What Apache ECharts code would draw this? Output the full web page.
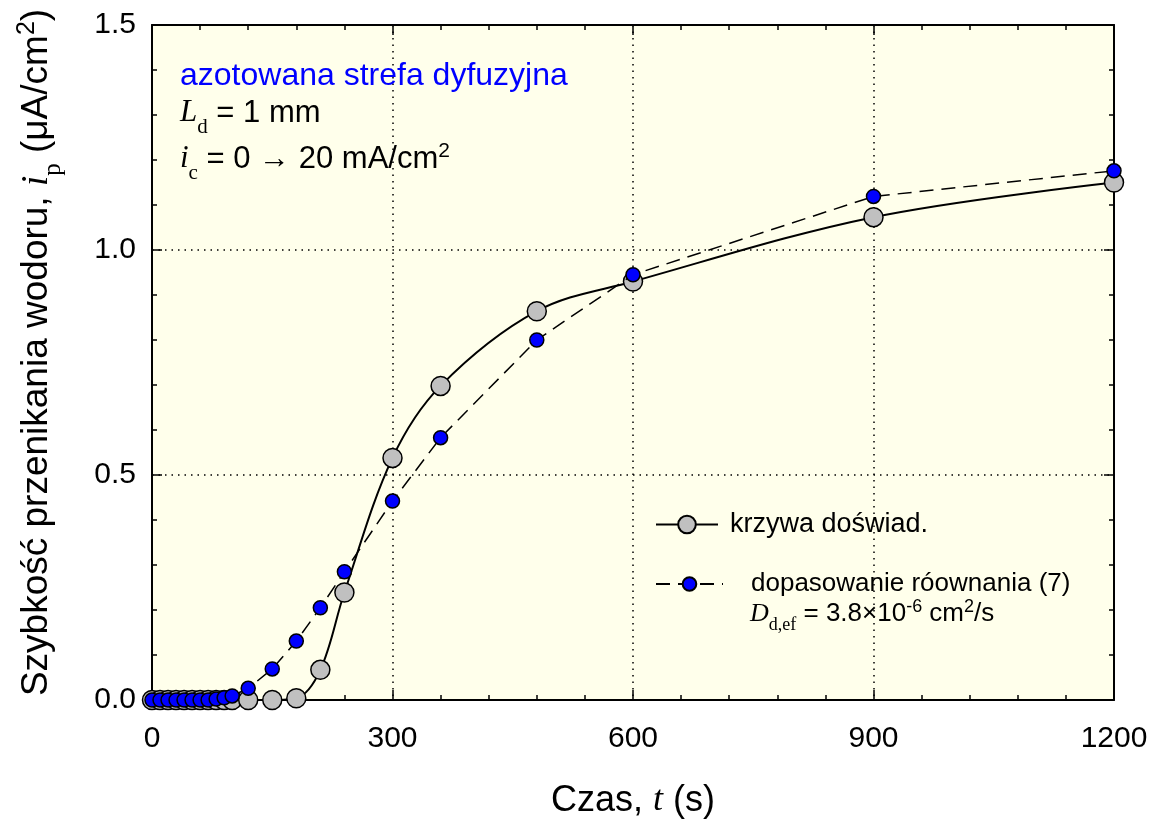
<!DOCTYPE html>
<html><head><meta charset="utf-8">
<script src="https://cdn.jsdelivr.net/npm/echarts@6/dist/echarts.min.js"></script>
<style>html,body{margin:0;padding:0;background:#fff}#c{width:1153px;height:819px}</style>
</head><body><div id="c"></div>
<script>
// ---- data ----
const timeExp = [0,10,20,30,40,50,60,70,80,90,100,120,150,180,210,240,300,360,480,600,900,1200];
const rateExp = [0,0,0,0,0,0,0,0,0,0,0,0,0,0.004,0.067,0.239,0.538,0.698,0.864,0.930,1.073,1.150];
const timeFit = [0,10,20,30,40,50,60,70,80,90,100,120,150,180,210,240,300,360,480,600,900,1200];
const rateFit = [0,0,0,0,0,0,0,0,0.002,0.005,0.009,0.026,0.069,0.131,0.205,0.285,0.442,0.583,0.800,0.945,1.119,1.176];
const xRange = [0, 1200], xStep = 300;
const yRange = [0, 1.5], yStep = 0.5;
const nameExp = 'krzywa doświad.';
const nameFit = 'dopasowanie róownania (7)';

const SANS = '"Liberation Sans", Arial, sans-serif';
const SERIF = '"Liberation Serif", "Times New Roman", serif';

const pairs = (xs, ys) => xs.map((x, i) => [x, ys[i]]);

const chart = echarts.init(document.getElementById('c'), null, {renderer: 'canvas'});

const tickCommon = (len) => ({show: true, inside: true, length: len, lineStyle: {color: '#000', width: 1.5}});
const minorCommon = {show: true, splitNumber: 5, length: 5, lineStyle: {color: '#000', width: 1.5}};
const axisLineCommon = {show: true, onZero: false, lineStyle: {color: '#000', width: 2}};

const richBase = (fs) => ({
  n: {fontFamily: SANS, fontSize: fs, color: '#000'},
  i: {fontFamily: SERIF, fontStyle: 'italic', fontSize: fs, color: '#000'},
  sub: {fontFamily: SERIF, fontSize: Math.round(fs * 0.68), color: '#000', padding: [Math.round(fs * 0.9), 0, 0, 0]},
  sup: {fontFamily: SANS, fontSize: Math.round(fs * 0.68), color: '#000', padding: [0, 0, Math.round(fs * 0.5), 0]}
});

const option = {
  backgroundColor: '#ffffff',
  animation: false,
  grid: {left: 152, right: 39, top: 25, bottom: 119, show: true, backgroundColor: '#ffffeb', borderWidth: 0,
         containLabel: false, outerBoundsMode: 'none'},
  xAxis: [{
    type: 'value', min: xRange[0], max: xRange[1], interval: xStep, position: 'bottom',
    axisLine: axisLineCommon, axisTick: tickCommon(10), minorTick: minorCommon,
    splitLine: {show: true, lineStyle: {color: '#000', width: 1.5, type: [1.5, 5]}},
    axisLabel: {fontFamily: SANS, fontSize: 30, color: '#000', margin: 24, formatter: v => String(v)},
    name: '{n|Czas, }{i|t}{n| (s)}', nameLocation: 'middle', nameGap: 83,
    nameTextStyle: {rich: richBase(36)}
  }, {
    type: 'value', min: xRange[0], max: xRange[1], interval: xStep, position: 'top',
    axisLine: axisLineCommon, axisTick: tickCommon(10), minorTick: minorCommon,
    splitLine: {show: false}, axisLabel: {show: false}
  }],
  yAxis: [{
    type: 'value', min: yRange[0], max: yRange[1], interval: yStep, position: 'left',
    axisLine: axisLineCommon, axisTick: tickCommon(10), minorTick: minorCommon,
    splitLine: {show: true, lineStyle: {color: '#000', width: 1.5, type: [1.5, 5]}},
    axisLabel: {fontFamily: SANS, fontSize: 30, color: '#000', margin: 16, formatter: v => v.toFixed(1)},
    name: '{n|Szybkość przenikania wodoru, }{i|i}{sub|p}{n| (μA/cm}{sup|2}{n|)}',
    nameLocation: 'middle', nameGap: 86, nameRotate: 90,
    nameTextStyle: {rich: richBase(37), padding: [0, 0, 0, 20]}
  }, {
    type: 'value', min: yRange[0], max: yRange[1], interval: yStep, position: 'right',
    axisLine: axisLineCommon, axisTick: tickCommon(10), minorTick: minorCommon,
    splitLine: {show: false}, axisLabel: {show: false}
  }],
  legend: [{
    data: [nameExp], left: 655, top: 511, orient: 'vertical', padding: 0,
    itemWidth: 62, itemHeight: 22,
    formatter: n => '{t|' + n + '}',
    textStyle: {rich: {t: {fontFamily: SANS, fontSize: 27, color: '#000', padding: [0, 0, 0, 7]}}}
  }, {
    data: [nameFit], left: 655, top: 571, orient: 'vertical', padding: 0,
    itemWidth: 67, itemHeight: 17,
    formatter: n => '{t|' + n + '}',
    textStyle: {rich: {t: {fontFamily: SANS, fontSize: 26, color: '#000', padding: [0, 0, 0, 23]}}}
  }],
  graphic: [{
    type: 'text', left: 180, top: 60, z: 100,
    style: {text: 'azotowana strefa dyfuzyjna', fill: '#0000ff', font: '32px ' + SANS}
  }, {
    type: 'text', x: 180, y: 113, z: 100,
    style: {text: '{i|L}{sub|d}{n| = 1 mm}', verticalAlign: 'middle', rich: richBase(31)}
  }, {
    type: 'text', x: 180, y: 159, z: 100,
    style: {text: '{i|i}{sub|c}{n| = 0 → 20 mA/cm}{sup|2}', verticalAlign: 'middle', rich: richBase(31)}
  }, {
    type: 'text', x: 750, y: 614, z: 100,
    style: {text: '{i|D}{sub|d,ef}{n| = 3.8×10}{sup|-6}{n| cm}{sup|2}{n|/s}', verticalAlign: 'middle', rich: richBase(26)}
  }],
  series: [{
    name: nameExp, type: 'line', data: pairs(timeExp, rateExp),
    smooth: 0.35, symbol: 'circle', symbolSize: 19, z: 3,
    lineStyle: {color: '#000', width: 2},
    itemStyle: {color: '#c0c0c0', borderColor: '#000', borderWidth: 1.5}
  }, {
    name: nameFit, type: 'line', data: pairs(timeFit, rateFit),
    smooth: false, symbol: 'circle', symbolSize: 14, z: 4,
    lineStyle: {color: '#000', width: 1.5, type: [14, 8]},
    itemStyle: {color: '#0000ff', borderColor: '#000', borderWidth: 1.5}
  }]
};
chart.setOption(option);
</script></body></html>
